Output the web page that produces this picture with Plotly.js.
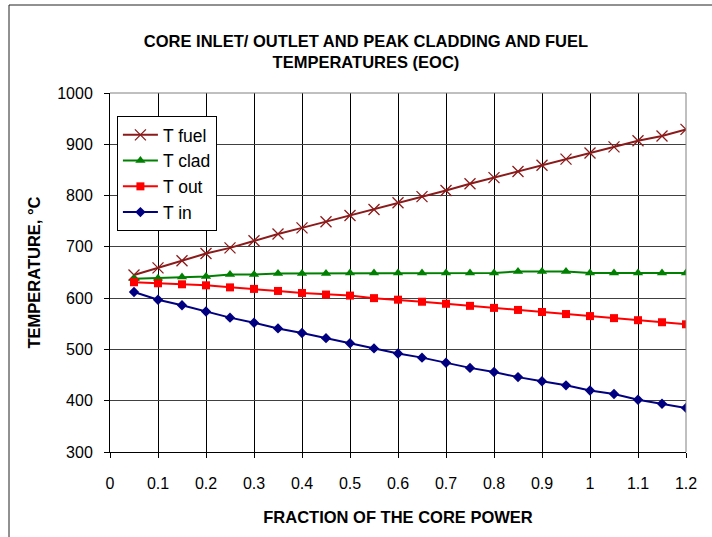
<!DOCTYPE html>
<html>
<head>
<meta charset="utf-8">
<script src="https://cdn.plot.ly/plotly-3.0.1.min.js"></script>
<style>
html,body{margin:0;padding:0;background:#fff;}
#chart{width:712px;height:537px;}
</style>
</head>
<body>
<div id="chart"></div>
<script>
const fraction = [0.05,0.1,0.15,0.2,0.25,0.3,0.35,0.4,0.45,0.5,0.55,0.6,0.65,0.7,0.75,0.8,0.85,0.9,0.95,1.0,1.05,1.1,1.15,1.2];
const tFuel = [645,659,673,687,698,712,725,737,749,761,773,786,798,810,823,835,847,859,871,883,895,907,916,929];
const tClad = [638,639,641,642,646,646,648,648,648,649,649,649,649,649,649,649,652,652,652,649,649,649,649,649];
const tOut  = [631,629,627,625,621,618,614,610,607,605,600,597,593,589,585,581,577,573,569,565,561,557,553,549];
const tIn   = [612,597,586,574,562,552,541,532,522,512,502,492,484,474,464,456,446,438,430,420,413,402,394,386];
const seriesNames = ["T fuel","T clad","T out","T in"];
const xTickVals = [0,0.1,0.2,0.3,0.4,0.5,0.6,0.7,0.8,0.9,1,1.1,1.2];
const xTickText = ["0","0.1","0.2","0.3","0.4","0.5","0.6","0.7","0.8","0.9","1","1.1","1.2"];

const FONT = "Liberation Sans, Arial, sans-serif";

const traces = [
  {x: fraction, y: tFuel, name: seriesNames[0], legendgroup: "a", mode: "lines+markers",
   line: {color: "#8B1A1A", width: 2},
   marker: {symbol: "x-thin-open", size: 11, color: "#8B1A1A", line: {color: "#8B1A1A", width: 1.3}}},
  {x: fraction, y: tClad, name: seriesNames[1], legendgroup: "b", mode: "lines+markers",
   line: {color: "#008000", width: 2},
   marker: {symbol: "triangle-up", size: 9, color: "#008000"}},
  {x: fraction, y: tOut, name: seriesNames[2], legendgroup: "c", mode: "lines+markers",
   line: {color: "#FF0000", width: 2},
   marker: {symbol: "square", size: 8, color: "#FF0000"}},
  {x: fraction, y: tIn, name: seriesNames[3], legendgroup: "d", mode: "lines+markers",
   line: {color: "#000080", width: 2},
   marker: {symbol: "diamond", size: 8, color: "#000080"}}
];

const layout = {
  width: 712, height: 537,
  margin: {l: 110, r: 26, t: 93, b: 85, pad: 0},
  paper_bgcolor: "#fff", plot_bgcolor: "#fff",
  font: {family: FONT, size: 16, color: "#000"},
  showlegend: true,
  title: {
    text: "<b>CORE INLET/ OUTLET AND PEAK CLADDING AND FUEL<br>TEMPERATURES (EOC)</b>",
    font: {family: FONT, size: 16.5, color: "#000"},
    x: 0.514, xref: "container", xanchor: "center",
    y: 1 - 47/537, yref: "container", yanchor: "middle"
  },
  xaxis: {
    range: [0, 1.2], tickvals: xTickVals, ticktext: xTickText,
    showgrid: true, gridcolor: "#000", gridwidth: 1,
    zeroline: false, showline: true, linecolor: "#000", linewidth: 1,
    ticks: "outside", ticklen: 5, tickcolor: "#000", ticklabelstandoff: 12,
    tickfont: {family: FONT, size: 16},
    title: {text: "<b>FRACTION OF THE CORE POWER</b>", font: {family: FONT, size: 16.5}, standoff: 20},
    fixedrange: true
  },
  yaxis: {
    range: [300, 1000], dtick: 100, tick0: 300,
    showgrid: true, gridcolor: "#404040", gridwidth: 1,
    zeroline: false, showline: true, linecolor: "#000", linewidth: 1,
    ticks: "outside", ticklen: 5, tickcolor: "#000", ticklabelstandoff: 8,
    tickfont: {family: FONT, size: 16},
    title: {text: "<b>TEMPERATURE, °C</b>", font: {family: FONT, size: 16.5}, standoff: 12},
    fixedrange: true
  },
  legend: {
    x: 0.012, y: 0.936, xanchor: "left", yanchor: "top",
    bgcolor: "#fff", bordercolor: "#000", borderwidth: 1,
    font: {family: FONT, size: 17.5, color: "#000"},
    traceorder: "grouped", tracegroupgap: 0,
    itemwidth: 35
  },
  shapes: [
    {type: "line", xref: "paper", yref: "paper", x0: 0, x1: 1, y0: 1, y1: 1, line: {color: "#808080", width: 1}, layer: "above"},
    {type: "line", xref: "paper", yref: "paper", x0: 1, x1: 1, y0: 0, y1: 1, line: {color: "#808080", width: 1}, layer: "above"},
    {type: "rect", xref: "paper", yref: "paper", x0: -101/576, x1: 3, y0: -3, y1: 447/359, line: {color: "#222", width: 1}, fillcolor: "rgba(0,0,0,0)", layer: "below"}
  ]
};

Plotly.newPlot("chart", traces, layout, {displayModeBar: false, staticPlot: true});
</script>
</body>
</html>
